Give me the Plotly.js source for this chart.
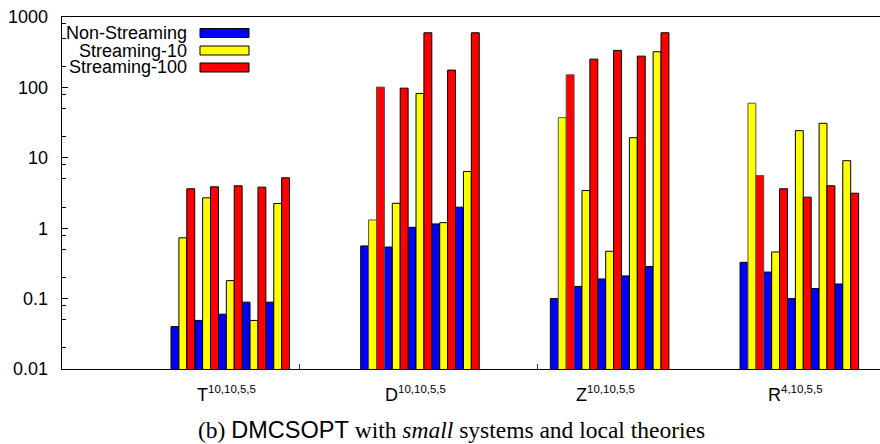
<!DOCTYPE html>
<html>
<head>
<meta charset="utf-8">
<script src="https://cdn.plot.ly/plotly-3.0.1.min.js"></script>
<style>html,body{margin:0;padding:0;overflow:hidden;background:#fff}</style>
</head>
<body>
<div id="chart"></div>
<script>
// ---- data ----
const groups = ["T", "D", "Z", "R"];
const groupBase = ["T", "D", "Z", "R"];
const groupSup = ["10,10,5,5", "10,10,5,5", "10,10,5,5", "4,10,5,5"];
const runs = ["1", "2", "3", "4", "5"];
const seriesNames = ["Non-Streaming", "Streaming-10", "Streaming-100"];
const seriesColors = ["#0000ff", "#ffff00", "#ff0000"];
// values per group in run order (T runs, D runs, Z runs, R runs)
const nonStreaming = [0.040, 0.049, 0.060, 0.089, 0.089,
                      0.56, 0.54, 1.03, 1.15, 1.99,
                      0.10, 0.149, 0.19, 0.21, 0.286,
                      0.327, 0.238, 0.10, 0.139, 0.161];
const streaming10 = [0.73, 2.7, 0.18, 0.049, 2.24,
                     1.31, 2.26, 82, 1.2, 6.4,
                     37.3, 3.43, 0.47, 19.3, 321,
                     59.6, 0.46, 24.3, 30.9, 9.1];
const streaming100 = [3.63, 3.87, 4.0, 3.83, 5.2,
                      101, 97.5, 597, 176, 597,
                      151, 252, 335, 278, 597,
                      5.6, 3.63, 2.76, 4.0, 3.14];
// bars drawn with a dashed (incomplete) outline in the original
const dashed10 = [0,0,0,0,0, 1,0,0,0,0, 1,0,0,0,0, 1,0,0,0,0];
const dashed100 = [0,0,0,0,0, 1,0,0,0,0, 1,0,0,0,0, 1,0,0,0,0];
const yTickVals = [0.01, 0.1, 1, 10, 100, 1000];
const yTickText = ["0.01", "0.1", "1", "10", "100", "1000"];
const yMinorVals = [0.02, 0.05, 0.08, 0.2, 0.5, 0.8, 2, 5, 8, 20, 50, 80, 200, 500, 800];
const caption = '(b) <span style="font-family:\'Liberation Sans\'">DMCSOPT</span> with <i>small</i> systems and local theories';

// ---- build categories ----
const xCats = [];
const slotOrder = [];
groups.forEach((g, gi) => {
  runs.forEach(r => { xCats.push(g + "-" + r); slotOrder.push(g + "-" + r); });
  if (gi < groups.length - 1) { for (let k = 0; k < 3; k++) slotOrder.push("gap" + gi + "-" + k); }
});
const centerCats = groups.map(g => g + "-" + runs[2]);

const sans = "'Liberation Sans', Arial, Helvetica, sans-serif";
const serif = "'Liberation Serif', 'Times New Roman', serif";

const W = 900, H = 444;
const M = {l: 62, r: 10, t: 17, b: 75};
const pw = W - M.l - M.r, ph = H - M.t - M.b;
const px = x => (x - M.l) / pw;
const py = y => (H - M.b - y) / ph;

function lineColors(flags) { return flags.map(f => f ? "#555555" : "#000000"); }

const values = [nonStreaming, streaming10, streaming100];
const lines = [nonStreaming.map(() => "#000000"), lineColors(dashed10), lineColors(dashed100)];
const traces = values.map((v, i) => ({
  type: "bar",
  name: seriesNames[i],
  x: xCats,
  y: v,
  marker: {color: seriesColors[i], line: {color: lines[i], width: 1}},
  hoverinfo: "x+y+name"
}));
// helper axis only for the small tick marks on the bottom frame
traces.push({type: "scatter", x: [], y: [], xaxis: "x2", yaxis: "y", showlegend: false, hoverinfo: "skip"});

// legend (text right-aligned, key to the right)
const legendY = [33, 50.5, 67.5];
const annotations = seriesNames.map((n, i) => ({
  xref: "paper", yref: "paper", x: px(189), y: py(legendY[i]),
  xanchor: "right", yanchor: "middle", showarrow: false,
  text: n, font: {family: sans, size: 18, color: "#000"}
}));
// group labels under the axis
groups.forEach((g, gi) => {
  annotations.push({
    xref: "x", yref: "paper", x: centerCats[gi], y: py(381),
    xanchor: "center", yanchor: "top", xshift: -4, showarrow: false,
    text: groupBase[gi] + '<sup><span style="font-size:11.5px">' + groupSup[gi] + '</span></sup>',
    font: {family: sans, size: 18, color: "#000"}
  });
});
annotations.push({
  xref: "paper", yref: "paper", x: px(451), y: py(430),
  xanchor: "center", yanchor: "middle", showarrow: false,
  text: caption, font: {family: serif, size: 23.5, color: "#000"}
});
const shapes = seriesNames.map((n, i) => ({
  type: "rect", xref: "paper", yref: "paper",
  x0: px(200), x1: px(249), y0: py(legendY[i] + 4.5), y1: py(legendY[i] - 4.5),
  fillcolor: seriesColors[i], line: {color: "#000", width: 1}
}));

const slotPx = 23.71;
const firstCenter = 182.86;
const r0 = -(firstCenter - M.l) / slotPx;
const r1 = r0 + pw / slotPx;

const layout = {
  width: W, height: H,
  margin: {l: M.l, r: M.r, t: M.t, b: M.b, pad: 0},
  paper_bgcolor: "#fff", plot_bgcolor: "#fff",
  showlegend: false,
  barmode: "group", bargap: 0, bargroupgap: 0,
  font: {family: sans, color: "#000"},
  xaxis: {
    type: "category", categoryorder: "array", categoryarray: slotOrder,
    range: [r0, r1],
    showticklabels: false,
    ticks: "", showline: true, mirror: true, linecolor: "#000", linewidth: 1.3,
    showgrid: false, zeroline: false
  },
  xaxis2: {
    overlaying: "x", anchor: "y", type: "linear",
    range: [0, pw / 237.5], tickmode: "array", tickvals: [1, 2],
    ticks: "inside", ticklen: 5, tickwidth: 1, tickcolor: "#333",
    showticklabels: false, showline: false, showgrid: false, zeroline: false
  },
  yaxis: {
    type: "log", range: [-2, 3],
    tickmode: "array", tickvals: yTickVals, ticktext: yTickText,
    ticks: "inside", ticklen: 6, tickwidth: 1, tickcolor: "#000",
    minor: {tickmode: "array", tickvals: yMinorVals, ticks: "inside", ticklen: 3.5, tickwidth: 1, tickcolor: "#000", showgrid: false},
    showline: true, mirror: true, linecolor: "#000", linewidth: 1.3,
    showgrid: false, zeroline: false,
    tickfont: {family: sans, size: 18, color: "#000"},
    ticklabelstandoff: 9
  },
  annotations: annotations,
  shapes: shapes
};

Plotly.newPlot("chart", traces, layout, {displayModeBar: false, staticPlot: true});
</script>
</body>
</html>
